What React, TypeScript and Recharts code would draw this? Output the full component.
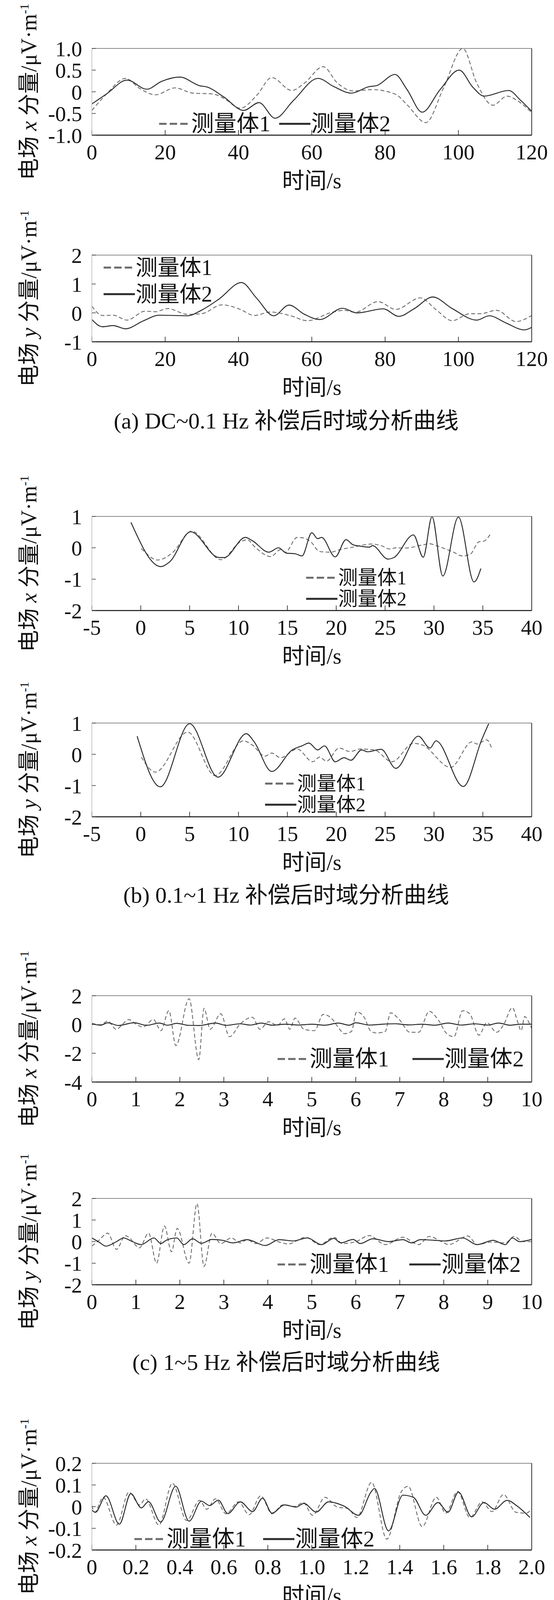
import React from "react";
import { LineChart, Line, XAxis, YAxis, Legend, Label } from "recharts";

// ---- (a) DC~0.1 Hz ----
const axDashed = [
  [0, -0.43], [4, -0.05], [9.2, 0.31], [13, 0.08], [17.3, -0.07], [22.7, 0.09], [27.5, -0.03],
  [33, -0.05], [36, -0.15], [40.5, -0.38], [45, -0.08], [49.1, 0.33], [54.5, 0.03], [58, 0.2],
  [63.1, 0.58], [67, 0.2], [71.3, 0.02], [76.6, 0.05], [82.9, -0.06], [86, -0.3], [91.1, -0.71],
  [96, 0.1], [101.2, 1.0], [105, 0.2], [109.4, -0.31], [113.3, -0.1], [116, -0.2], [120, -0.48],
];
const axSolid = [
  [0, -0.28], [4, -0.05], [9.6, 0.27], [15, 0.06], [19, 0.24], [24, 0.34], [29.4, 0.14],
  [31.5, 0.11], [36, -0.12], [41.4, -0.43], [45.6, -0.25], [50, -0.61], [55, -0.2], [61.7, 0.31],
  [66, 0.12], [70.8, -0.03], [75.7, 0.12], [77.6, 0.14], [82.7, 0.4], [86, 0.05], [90.1, -0.47],
  [95, 0.05], [100.2, 0.5], [104, 0.1], [107, -0.1], [113.7, 0.03], [117, -0.2], [120, -0.45],
];
const ayDashed = [
  [0, 0.23], [2.9, -0.09], [5.8, -0.08], [9.6, -0.25], [14.5, 0.06], [17.3, 0.04], [20.7, 0.15],
  [26, -0.05], [29.9, -0.03], [35.5, 0.28], [40.5, 0.12], [44.3, -0.09], [48.7, 0.03], [54, -0.09],
  [58.8, -0.27], [65.5, 0.02], [68.9, 0.09], [71.8, 0.02], [78.1, 0.39], [82.9, 0.12], [89.6, 0.52],
  [94, 0.1], [98.3, -0.27], [103.1, -0.03], [106, -0.03], [110.4, 0.09], [115.7, -0.3], [120, -0.09],
];
const aySolid = [
  [0, -0.23], [2.9, -0.48], [5.8, -0.44], [9.2, -0.55], [14, -0.28], [18.3, -0.08], [26, -0.1],
  [30, 0.1], [34.7, 0.48], [40.8, 1.05], [45, 0.5], [49.6, -0.1], [53.8, 0.27], [58, -0.05],
  [62.2, -0.23], [68.4, 0.16], [72.3, 0.0], [79.5, 0.14], [83.7, -0.12], [88, 0.15], [93, 0.55],
  [98.3, 0.15], [105, -0.25], [108.4, -0.1], [113, -0.35], [118, -0.59], [120, -0.5],
];

// ---- (b) 0.1~1 Hz ----
const bxDashed = [
  [0.06, -0.02], [0.6, -0.19], [1.7, -0.39], [2.6, -0.3], [3.3, -0.14], [5.2, 0.53], [8.2, -0.38],
  [10.2, 0.19], [10.9, 0.26], [11.6, 0.05], [13.3, -0.28], [14.3, -0.06], [14.8, -0.14], [16, 0.33],
  [16.7, 0.31], [17.4, 0.19], [18.3, -0.12], [19.4, -0.14], [20.5, -0.05], [21.7, 0.02], [23.6, 0.12],
  [24.6, 0.07], [25.5, -0.04], [26.1, 0.0], [27, -0.01], [29, 0.1], [29.5, 0.13], [30.4, 0.05],
  [32, -0.14], [32.9, -0.26], [33.7, -0.21], [34.6, 0.19], [35.1, 0.21], [35.8, 0.45],
];
const bxSolid = [
  [-1.0, 0.81], [2.05, -0.6], [2.95, -0.45], [5.1, 0.51], [8.0, -0.31], [8.55, -0.31], [10.7, 0.33],
  [11.4, 0.23], [13.1, -0.14], [14.1, 0.0], [14.9, -0.17], [15.8, -0.19], [16.5, -0.26], [17.5, 0.48],
  [18.1, 0.29], [18.5, 0.33], [19.9, -0.29], [21.0, 0.26], [21.7, 0.1], [22.5, 0.05], [23.4, 0.02],
  [23.7, 0.07], [25.3, -0.36], [25.9, -0.31], [27.9, 0.41], [28.9, -0.3], [29.8, 0.99], [30.9, -0.9],
  [32.5, 0.98], [34.1, -1.09], [34.8, -0.66],
];
const byDashed = [
  [0.06, -0.09], [1.5, -0.57], [4.8, 0.71], [7.6, -0.68], [10.5, 0.43], [11.4, 0.3], [12.7, -0.06],
  [13.4, 0.04], [14.3, -0.11], [16, 0.17], [17.6, -0.24], [18.3, -0.09], [19, -0.22], [20.3, 0.2],
  [21.4, 0.09], [22.5, 0.17], [23.9, 0.14], [25.7, -0.24], [27.9, 0.35], [28.8, 0.3], [31.7, -0.42],
  [33.9, 0.4], [34.4, 0.33], [35.4, 0.46], [35.9, 0.2],
];
const bySolid = [
  [-0.37, 0.58], [2.0, -1.04], [5.0, 0.98], [7.9, -0.73], [10.8, 0.66], [11.6, 0.4], [13.4, -0.55],
  [15.5, 0.14], [16.5, 0.27], [17.2, 0.36], [18.1, 0.14], [18.8, 0.27], [19.9, -0.24], [20.8, -0.11],
  [21.5, -0.19], [22.6, 0.14], [23.2, 0.08], [24.6, 0.16], [26.1, -0.45], [28.4, 0.58], [29.6, 0.2],
  [30.2, 0.43], [33.0, -1.03], [34.9, 0.48], [35.6, 0.98],
];

// ---- (c) 1~5 Hz ----
const cxDashed = [
  [0, 0.08], [0.2, -0.02], [0.36, 0.24], [0.55, -0.33], [0.76, 0.19], [0.84, 0.34], [1.0, 0.03],
  [1.16, -0.18], [1.4, 0.34], [1.57, -0.43], [1.75, 0.96], [1.91, -1.47], [2.21, 1.79], [2.43, -2.45],
  [2.55, 1.12], [2.69, -0.33], [2.93, 0.75], [3.13, -0.85], [3.37, 0.03], [3.65, 0.5], [3.82, -0.33],
  [4.02, 0.19], [4.22, -0.07], [4.38, 0.39], [4.5, -0.33], [4.62, 0.44], [4.82, -0.33], [5.06, -0.43],
  [5.26, 0.7], [5.46, 0.39], [5.62, -0.28], [5.74, -0.64], [5.9, -0.49], [6.02, 0.88], [6.18, 0.55],
  [6.35, -0.49], [6.47, -0.59], [6.67, -0.49], [6.79, 0.81], [6.99, 0.34], [7.23, -0.54], [7.43, -0.54],
  [7.67, 0.91], [7.87, 0.34], [8.07, -0.64], [8.23, -0.85], [8.43, 0.96], [8.59, 0.75], [8.8, -0.74],
  [8.98, 0.13], [9.2, -0.54], [9.36, -0.02], [9.56, 1.17], [9.68, 0.19], [9.76, -0.43], [9.84, 0.55],
  [9.92, 0.24], [10, -0.28],
];
const cxSolid = [
  [0, 0.05], [0.2, -0.05], [0.36, 0.12], [0.6, -0.07], [0.96, 0.12], [1.25, -0.06], [1.53, 0.1],
  [1.72, -0.05], [1.93, 0.08], [2.2, -0.06], [2.45, -0.07], [2.81, 0.1], [3.05, -0.06], [3.37, 0.05],
  [3.6, -0.04], [3.85, 0.1], [4.1, -0.05], [4.4, 0.02], [4.7, -0.04], [5.0, 0.02], [5.3, -0.05],
  [5.6, 0.1], [5.85, -0.05], [6.0, 0.12], [6.3, -0.04], [6.6, 0.02], [6.9, 0.05], [7.2, -0.03],
  [7.5, 0.02], [7.8, -0.05], [8.1, 0.1], [8.4, -0.04], [8.7, 0.05], [9.0, -0.04], [9.25, 0.1],
  [9.5, -0.05], [9.75, 0.02], [10, 0.02],
];
const cyDashed = [
  [0, -0.21], [0.16, 0.06], [0.36, 0.39], [0.56, -0.36], [0.76, 0.28], [0.84, 0.2], [1.08, -0.29],
  [1.29, 0.39], [1.47, -1.0], [1.65, 0.72], [1.81, -0.47], [1.94, 0.61], [2.21, -1.0], [2.39, 1.76],
  [2.55, -1.15], [2.73, 0.39], [2.93, -0.09], [3.17, 0.17], [3.37, -0.06], [3.53, 0.09], [3.73, -0.09],
  [3.98, 0.17], [4.26, -0.02], [4.46, -0.11], [4.86, 0.2], [5.18, -0.14], [5.5, 0.2], [5.7, -0.09],
  [5.98, -0.02], [6.31, 0.28], [6.67, -0.14], [7.07, 0.2], [7.43, -0.14], [7.67, 0.24], [7.95, 0.0],
  [8.11, -0.14], [8.55, 0.26], [8.76, -0.14], [9.08, -0.02], [9.4, -0.06], [9.6, 0.24], [9.8, 0.0],
  [10, 0.0],
];
const cySolid = [
  [0, 0.17], [0.16, -0.02], [0.32, -0.21], [0.56, 0.0], [0.72, 0.17], [0.92, 0.0], [1.12, -0.14],
  [1.41, 0.17], [1.57, -0.09], [1.69, 0.06], [1.93, 0.17], [2.09, -0.14], [2.29, 0.13], [2.49, -0.08],
  [2.73, 0.1], [2.97, 0.06], [3.21, -0.06], [3.53, 0.09], [3.94, -0.18], [4.26, 0.09], [4.58, 0.03],
  [4.9, 0.17], [5.22, -0.14], [5.5, 0.15], [5.66, -0.06], [5.94, 0.1], [6.1, -0.09], [6.39, 0.13],
  [6.75, 0.0], [7.07, 0.09], [7.27, -0.06], [7.47, 0.09], [7.79, 0.06], [8.03, 0.03], [8.43, 0.17],
  [8.76, -0.14], [9.12, 0.06], [9.4, -0.14], [9.56, 0.17], [9.72, 0.0], [10, 0.1],
];

// ---- (d) 5~10 Hz ----
const dxDashed = [
  [0, 0.005], [0.013, -0.026], [0.051, 0.043], [0.112, -0.085], [0.169, 0.067], [0.217, 0.008],
  [0.244, 0.036], [0.305, -0.085], [0.366, 0.108], [0.431, -0.064], [0.49, 0.029], [0.522, -0.012],
  [0.562, 0.036], [0.61, -0.033], [0.667, 0.022], [0.715, -0.037], [0.768, 0.05], [0.819, -0.033],
  [0.868, 0.008], [0.924, 0.001], [0.961, 0.019], [1.004, -0.04], [1.06, 0.043], [1.116, -0.002],
  [1.165, -0.009], [1.205, -0.05], [1.272, 0.112], [1.341, -0.15], [1.406, 0.067], [1.438, 0.094],
  [1.502, -0.092], [1.566, 0.043], [1.609, -0.03], [1.663, 0.07], [1.719, -0.05], [1.775, 0.022],
  [1.819, -0.023], [1.872, 0.056], [1.928, -0.026], [1.976, -0.03], [2.0, -0.009],
];
const dxSolid = [
  [0, -0.016], [0.016, -0.026], [0.064, 0.05], [0.125, -0.081], [0.177, 0.06], [0.225, -0.006],
  [0.257, 0.023], [0.313, -0.071], [0.381, 0.094], [0.442, -0.067], [0.498, 0.025], [0.535, 0.005],
  [0.575, 0.03], [0.618, -0.032], [0.675, 0.022], [0.731, -0.023], [0.776, 0.039], [0.819, -0.03],
  [0.876, 0.008], [0.929, -0.002], [0.964, 0.015], [1.02, -0.025], [1.076, 0.022], [1.149, 0.001],
  [1.213, -0.04], [1.269, 0.067], [1.285, 0.084], [1.349, -0.112], [1.414, 0.053], [1.462, 0.043],
  [1.518, -0.04], [1.574, 0.019], [1.619, -0.026], [1.667, 0.067], [1.727, -0.047], [1.783, 0.019],
  [1.831, -0.012], [1.888, 0.029], [1.936, 0.001], [1.992, -0.05],
];
const dyDashed = [
  [0, 0.0], [0.024, 0.036], [0.064, -0.021], [0.12, 0.079], [0.169, -0.071], [0.217, 0.014],
  [0.249, -0.021], [0.308, 0.079], [0.362, -0.107], [0.413, 0.083], [0.474, -0.05], [0.53, 0.039],
  [0.578, -0.029], [0.61, 0.021], [0.655, -0.021], [0.715, 0.057], [0.771, -0.097], [0.827, 0.06],
  [0.896, -0.019], [0.936, 0.014], [0.972, -0.021], [1.017, 0.036], [1.068, 0.007], [1.133, -0.007],
  [1.181, -0.003], [1.213, 0.057], [1.288, -0.121], [1.349, 0.186], [1.427, -0.121], [1.502, 0.107],
  [1.566, -0.029], [1.614, 0.0], [1.663, -0.029], [1.703, 0.079], [1.767, -0.06], [1.815, 0.071],
  [1.872, -0.057], [1.92, 0.093], [1.976, -0.079], [2.0, -0.057],
];
const dySolid = [
  [0, 0.007], [0.019, 0.043], [0.067, -0.046], [0.125, 0.107], [0.177, -0.05], [0.209, -0.014],
  [0.241, -0.046], [0.308, 0.117], [0.366, -0.129], [0.429, 0.093], [0.482, -0.046], [0.53, 0.043],
  [0.575, -0.033], [0.615, 0.026], [0.659, -0.026], [0.715, 0.069], [0.771, -0.089], [0.827, 0.071],
  [0.896, -0.021], [0.936, 0.014], [0.972, -0.029], [1.017, 0.054], [1.068, -0.031], [1.124, 0.0],
  [1.173, 0.003], [1.213, 0.079], [1.288, -0.136], [1.349, 0.217], [1.43, -0.136], [1.506, 0.129],
  [1.574, -0.064], [1.619, 0.036], [1.663, -0.046], [1.703, 0.064], [1.767, -0.04], [1.815, 0.071],
  [1.872, -0.079], [1.928, 0.089], [1.992, -0.09],
];

// ---- axes ----
const ticks120 = [0, 20, 40, 60, 80, 100, 120];
const ticks40 = [-5, 0, 5, 10, 15, 20, 25, 30, 35, 40];
const ticks10 = [0, 1, 2, 3, 4, 5, 6, 7, 8, 9, 10];
const ticks2 = [0, 0.2, 0.4, 0.6, 0.8, 1.0, 1.2, 1.4, 1.6, 1.8, 2.0];
const axYTicks = [-1, -0.5, 0, 0.5, 1];
const ayYTicks = [-1, 0, 1, 2];
const bYTicks = [-2, -1, 0, 1];
const cxYTicks = [-4, -2, 0, 2];
const cyYTicks = [-2, -1, 0, 1, 2];
const dxYTicks = [-0.2, -0.1, 0, 0.1, 0.2];
const dyYTicks = [-0.2, 0, 0.2, 0.4, 0.6];

const seriesNames = ["测量体1", "测量体2"];
const captions = [
  "(a) DC~0.1 Hz 补偿后时域分析曲线",
  "(b) 0.1~1 Hz 补偿后时域分析曲线",
  "(c) 1~5 Hz 补偿后时域分析曲线",
  "(d) 5~10 Hz 补偿后时域分析曲线",
];

const FONT = "'Liberation Serif', 'Times New Roman', 'Noto Sans CJK SC', serif";
const W = 1417;
const H = 4724;
const PLOT_LEFT = 235;
const PLOT_RIGHT = 1360;
const TOP_PAD = 45;
const BOTTOM_H = 150;
const DASH_COLOR = "#6a6a6a";
const SOLID_COLOR = "#2a2a2a";

const toPts = (arr: number[][]) => arr.map(([t, v]) => ({ t, v }));
const fmt = (dec: number) => (v: number) => (v === 0 ? "0" : v.toFixed(dec));

type LegendSpec = { left: number; cy: number; vertical: boolean; rowH: number; gap: number; size: number };

const makeLegend = (lg: LegendSpec) => (props: any) => {
  const items = props.payload || [];
  return (
    <div
      style={{
        display: "flex",
        flexDirection: lg.vertical ? "column" : "row",
        columnGap: lg.gap,
        fontFamily: FONT,
      }}
    >
      {items.map((it: any, i: number) => (
        <div key={i} style={{ display: "flex", alignItems: "center", height: lg.rowH, whiteSpace: "nowrap" }}>
          <svg width={80} height={12} style={{ marginRight: 2 }}>
            <line
              x1={0}
              y1={6}
              x2={80}
              y2={6}
              stroke={it.color}
              strokeWidth={5}
              strokeDasharray={i === 0 ? "19 8" : undefined}
            />
          </svg>
          <span style={{ fontSize: lg.size, color: "#111", lineHeight: `${lg.rowH - 4}px` }}>{it.value}</span>
        </div>
      ))}
    </div>
  );
};

type PanelProps = {
  top: number;
  plotH: number;
  xDomain: [number, number];
  xTicks: number[];
  xDec: number;
  yDomain: [number, number];
  yTicks: number[];
  yDec: number;
  comp: string;
  s1: number[][];
  s2: number[][];
  legend: LegendSpec;
};

function Panel(p: PanelProps) {
  const h = TOP_PAD + p.plotH + BOTTOM_H;
  const lg = p.legend;
  const legendTop = TOP_PAD + lg.cy - lg.rowH / 2;
  const tickStyle = { fontFamily: FONT, fontSize: 55, fill: "#111" };
  return (
    <div style={{ position: "absolute", left: 0, top: p.top - TOP_PAD, width: W, height: h }}>
      <LineChart
        width={W}
        height={h}
        margin={{ top: TOP_PAD - 1, right: W - PLOT_RIGHT - 1, left: 0, bottom: 0 }}
      >
        <XAxis
          xAxisId="b"
          type="number"
          dataKey="t"
          domain={p.xDomain}
          ticks={p.xTicks}
          interval={0}
          allowDataOverflow
          height={BOTTOM_H}
          tickSize={-13}
          tickMargin={36}
          tickFormatter={fmt(p.xDec)}
          tick={tickStyle}
          stroke="#111"
          axisLine={{ stroke: "#111", strokeWidth: 2.5 }}
          tickLine={{ stroke: "#111", strokeWidth: 1.5 }}
        >
          <Label
            value="时间/s"
            position="insideBottom"
            offset={14}
            style={{ fontFamily: FONT, fontSize: 57, fill: "#111" }}
          />
        </XAxis>
        <XAxis
          xAxisId="t"
          orientation="top"
          type="number"
          dataKey="t"
          domain={p.xDomain}
          ticks={p.xTicks}
          interval={0}
          allowDataOverflow
          height={1}
          tick={false}
          tickSize={-11}
          axisLine={{ stroke: "#8a8a8a", strokeWidth: 2 }}
          tickLine={{ stroke: "#333", strokeWidth: 1.5 }}
        />
        <YAxis
          yAxisId="l"
          type="number"
          domain={p.yDomain}
          ticks={p.yTicks}
          interval={0}
          allowDataOverflow
          width={PLOT_LEFT}
          tickSize={-10}
          tickMargin={35}
          tickFormatter={fmt(p.yDec)}
          tick={tickStyle}
          axisLine={{ stroke: "#b5b5b5", strokeWidth: 1.5 }}
          tickLine={{ stroke: "#333", strokeWidth: 1.5 }}
        />
        <YAxis
          yAxisId="r"
          orientation="right"
          type="number"
          domain={p.yDomain}
          ticks={p.yTicks}
          interval={0}
          allowDataOverflow
          width={1}
          tick={false}
          tickSize={-11}
          axisLine={{ stroke: "#333", strokeWidth: 2 }}
          tickLine={{ stroke: "#333", strokeWidth: 1.5 }}
        />
        <Legend
          layout={lg.vertical ? "vertical" : "horizontal"}
          align="center"
          verticalAlign="middle"
          content={makeLegend(lg)}
          wrapperStyle={{ left: lg.left, top: legendTop, width: "auto", height: "auto" }}
        />
        <Line
          xAxisId="b"
          yAxisId="l"
          data={toPts(p.s1)}
          dataKey="v"
          name={seriesNames[0]}
          type="monotone"
          stroke={DASH_COLOR}
          strokeWidth={2.2}
          strokeDasharray="10 6"
          dot={false}
          isAnimationActive={false}
        />
        <Line
          xAxisId="b"
          yAxisId="l"
          data={toPts(p.s2)}
          dataKey="v"
          name={seriesNames[1]}
          type="monotone"
          stroke={SOLID_COLOR}
          strokeWidth={2.4}
          dot={false}
          isAnimationActive={false}
        />
      </LineChart>
      <div
        style={{
          position: "absolute",
          left: 32,
          top: TOP_PAD + p.plotH / 2,
          transform: "translateY(-50%) rotate(180deg)",
          writingMode: "vertical-rl",
          textOrientation: "sideways",
          whiteSpace: "nowrap",
          fontFamily: FONT,
          fontSize: 56,
          lineHeight: "60px",
          color: "#111",
        }}
      >
        电场 <i>{p.comp}</i> 分量/μV·m<sup style={{ fontSize: 32 }}>-1</sup>
      </div>
    </div>
  );
}

function Caption({ y, text }: { y: number; text: string }) {
  return (
    <div
      style={{
        position: "absolute",
        left: 732 - 600,
        width: 1200,
        top: y - 32,
        textAlign: "center",
        fontFamily: FONT,
        fontSize: 58,
        lineHeight: "64px",
        color: "#111",
        whiteSpace: "nowrap",
      }}
    >
      {text}
    </div>
  );
}

export default function App() {
  return (
    <div style={{ position: "relative", margin: "-8px 0 0 -8px", width: W, height: H, background: "#fff", overflow: "hidden" }}>
      <Panel top={124} plotH={222} xDomain={[0, 120]} xTicks={ticks120} xDec={0}
        yDomain={[-1, 1]} yTicks={axYTicks} yDec={1} comp="x" s1={axDashed} s2={axSolid}
        legend={{ left: 407, cy: 193, vertical: false, rowH: 62, gap: 22, size: 58 }} />
      <Panel top={653} plotH={222} xDomain={[0, 120]} xTicks={ticks120} xDec={0}
        yDomain={[-1, 2]} yTicks={ayYTicks} yDec={0} comp="y" s1={ayDashed} s2={aySolid}
        legend={{ left: 265, cy: 32, vertical: true, rowH: 68, gap: 0, size: 56 }} />
      <Caption y={1078} text={captions[0]} />

      <Panel top={1322} plotH={241} xDomain={[-5, 40]} xTicks={ticks40} xDec={0}
        yDomain={[-2, 1]} yTicks={bYTicks} yDec={0} comp="x" s1={bxDashed} s2={bxSolid}
        legend={{ left: 783, cy: 157, vertical: true, rowH: 54, gap: 0, size: 50 }} />
      <Panel top={1851} plotH={240} xDomain={[-5, 40]} xTicks={ticks40} xDec={0}
        yDomain={[-2, 1]} yTicks={bYTicks} yDec={0} comp="y" s1={byDashed} s2={bySolid}
        legend={{ left: 678, cy: 155, vertical: true, rowH: 54, gap: 0, size: 50 }} />
      <Caption y={2292} text={captions[1]} />

      <Panel top={2549} plotH={221} xDomain={[0, 10]} xTicks={ticks10} xDec={0}
        yDomain={[-4, 2]} yTicks={cxYTicks} yDec={0} comp="x" s1={cxDashed} s2={cxSolid}
        legend={{ left: 710, cy: 162, vertical: false, rowH: 62, gap: 60, size: 58 }} />
      <Panel top={3068} plotH={221} xDomain={[0, 10]} xTicks={ticks10} xDec={0}
        yDomain={[-2, 2]} yTicks={cyYTicks} yDec={0} comp="y" s1={cyDashed} s2={cySolid}
        legend={{ left: 710, cy: 169, vertical: false, rowH: 62, gap: 52, size: 58 }} />
      <Caption y={3488} text={captions[2]} />

      <Panel top={3746} plotH={222} xDomain={[0, 2]} xTicks={ticks2} xDec={1}
        yDomain={[-0.2, 0.2]} yTicks={dxYTicks} yDec={1} comp="x" s1={dxDashed} s2={dxSolid}
        legend={{ left: 344, cy: 194, vertical: false, rowH: 62, gap: 44, size: 58 }} />
      <Panel top={4265} plotH={221} xDomain={[0, 2]} xTicks={ticks2} xDec={1}
        yDomain={[-0.2, 0.6]} yTicks={dyYTicks} yDec={1} comp="y" s1={dyDashed} s2={dySolid}
        legend={{ left: 1048, cy: 37, vertical: true, rowH: 62, gap: 0, size: 54 }} />
      <Caption y={4680} text={captions[3]} />
    </div>
  );
}
